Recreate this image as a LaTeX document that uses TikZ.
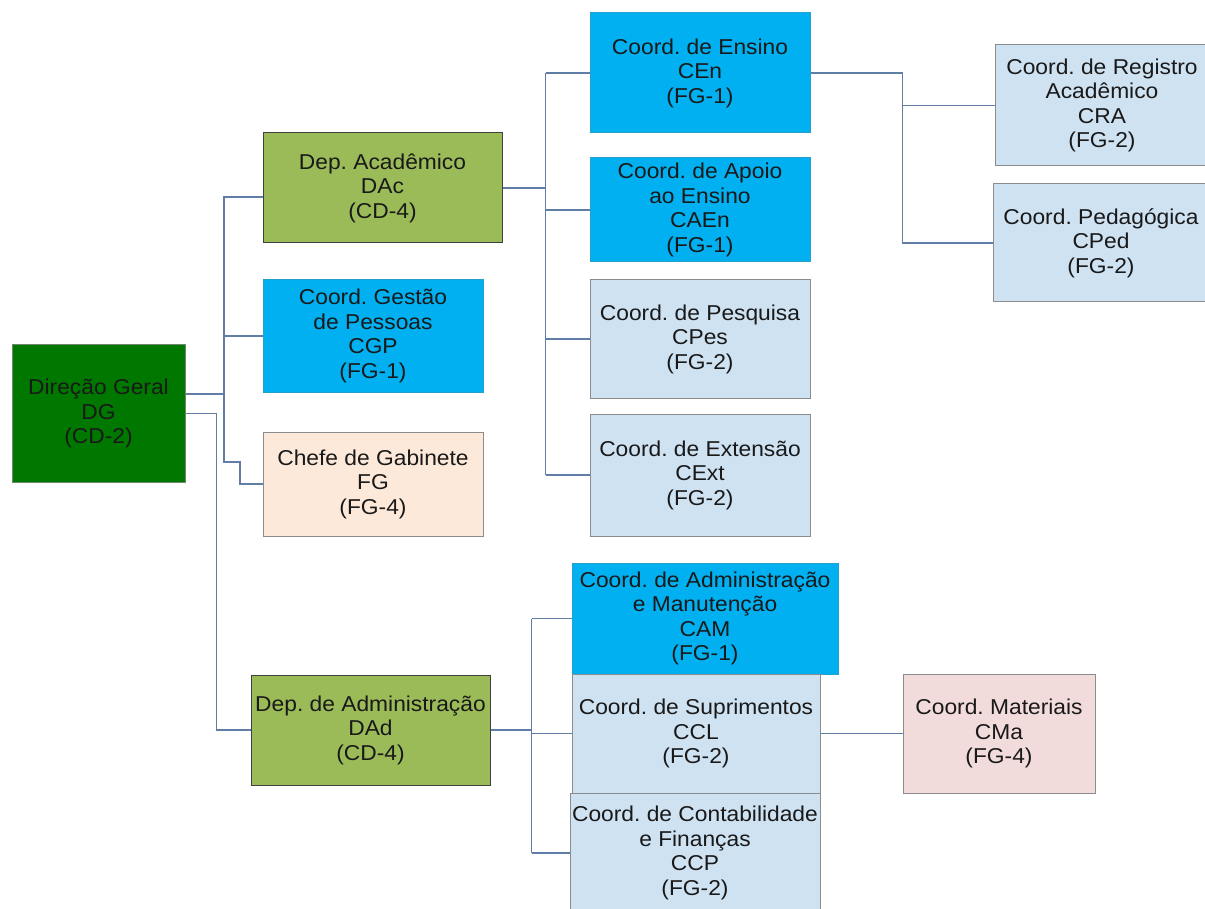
\documentclass[tikz,border=0pt]{standalone}
\usepackage{fontspec}
\setmainfont{Liberation Sans}[FakeStretch=1.06]
\usetikzlibrary{positioning}
\frenchspacing

\definecolor{dgGreen}{RGB}{0,120,0}
\definecolor{depGreen}{RGB}{155,187,89}
\definecolor{coordBlue}{RGB}{0,176,240}
\definecolor{paleBlue}{RGB}{207,226,242}
\definecolor{peach}{RGB}{253,233,217}
\definecolor{rose}{RGB}{242,220,219}
\definecolor{linkBlue}{RGB}{95,125,165}
\definecolor{frameGray}{RGB}{140,140,140}
\definecolor{inkDark}{RGB}{25,25,25}

\begin{document}
\begin{tikzpicture}[x=1pt, y=-1pt,
    every node/.style={font=\fontsize{21.5}{24.5}\selectfont, text=inkDark, align=center, inner sep=0pt},
    unit/.style={draw=frameGray, line width=1pt, fill=paleBlue},
    dgbox/.style={unit, fill=dgGreen, draw=frameGray!80!dgGreen},
    depbox/.style={unit, fill=depGreen, draw=black!75},
    bluebox/.style={unit, fill=coordBlue, draw=coordBlue!70!gray},
    link/.style={draw=linkBlue, line width=1.2pt}]
      \useasboundingbox (0,0) rectangle (1205,909);

      % caixas
      \node[dgbox, minimum width=173, minimum height=137] (dg) at (98.5, 413.5) {Direção Geral\\DG\\(CD-2)};
      \node[depbox, minimum width=239, minimum height=110] (dac) at (382.5, 188) {Dep. Acadêmico\\DAc\\(CD-4)};
      \node[bluebox, minimum width=220, minimum height=112] (cgp) at (373, 336) {Coord. Gestão\\de Pessoas\\CGP\\(FG-1)};
      \node[unit, fill=peach, minimum width=220, minimum height=104] (chefe) at (373, 484) {Chefe de Gabinete\\FG\\(FG-4)};
      \node[depbox, minimum width=239, minimum height=110] (dad) at (370.5, 730) {Dep. de Administração\\DAd\\(CD-4)};

      \node[bluebox, minimum width=220, minimum height=120] (cen) at (700, 73) {Coord. de Ensino\\CEn\\(FG-1)};
      \node[bluebox, minimum width=220, minimum height=104] (caen) at (700, 210) {Coord. de Apoio\\ao Ensino\\CAEn\\(FG-1)};
      \node[unit, minimum width=220, minimum height=118] (cpes) at (700, 339) {Coord. de Pesquisa\\CPes\\(FG-2)};
      \node[unit, minimum width=220, minimum height=122] (cext) at (700, 475) {Coord. de Extensão\\CExt\\(FG-2)};

      \node[unit, minimum width=214, minimum height=121] (cra) at (1102, 105.5) {Coord. de Registro\\Acadêmico\\CRA\\(FG-2)};
      \node[unit, minimum width=216, minimum height=118] (cped) at (1101, 243) {Coord. Pedagógica\\CPed\\(FG-2)};

      \node[bluebox, minimum width=266, minimum height=111] (cam) at (705, 618.5) {Coord. de Administração\\e Manutenção\\CAM\\(FG-1)};
      \node[unit, minimum width=248, minimum height=119] (ccl) at (696, 733.5) {Coord. de Suprimentos\\CCL\\(FG-2)};
      \node[unit, minimum width=250, minimum height=120] (ccp) at (695, 853) {Coord. de Contabilidade\\e Finanças\\CCP\\(FG-2)};
      \node[unit, fill=rose, minimum width=192, minimum height=119] (cma) at (999, 733.5) {Coord. Materiais\\CMa\\(FG-4)};

      % ligações da direção geral
      \coordinate (busDG) at (224, 394);
      \draw[link] (dg.east |- busDG) -- (busDG);
      \draw[link] ([yshift=-9pt]dac.west) -| (busDG);
      \draw[link] (busDG |- cgp.west) -- (cgp.west);
      \draw[link] (busDG) -- ++(0,68) -- ++(16,0) |- (chefe.west);
      \draw[link] (dg.east) -| ([xshift=-34pt]dad.west) -- (dad.west);

      % departamento acadêmico
      \draw[link] (dac.east) -- ++(43,0) coordinate (busDAc);
      \draw[link] (busDAc |- cen.west) -- (busDAc |- cext.west);
      \foreach \n in {cen, caen, cpes, cext}
        \draw[link] (busDAc |- \n.west) -- (\n.west);

      % coordenação de ensino
      \draw[link] (cen.east) -- ++(92,0) coordinate (busCEn) |- (cped.west);
      \draw[link] (busCEn |- cra.west) -- (cra.west);

      % departamento de administração
      \draw[link] (dad.east) -- ++(41,0) coordinate (busDAd);
      \draw[link] (busDAd |- cam.west) -- (busDAd |- ccp.west);
      \foreach \n in {cam, ccl, ccp}
        \draw[link] (busDAd |- \n.west) -- (\n.west);
      \draw[link] (ccl.east) -- (cma.west);
    \end{tikzpicture}
\end{document}
